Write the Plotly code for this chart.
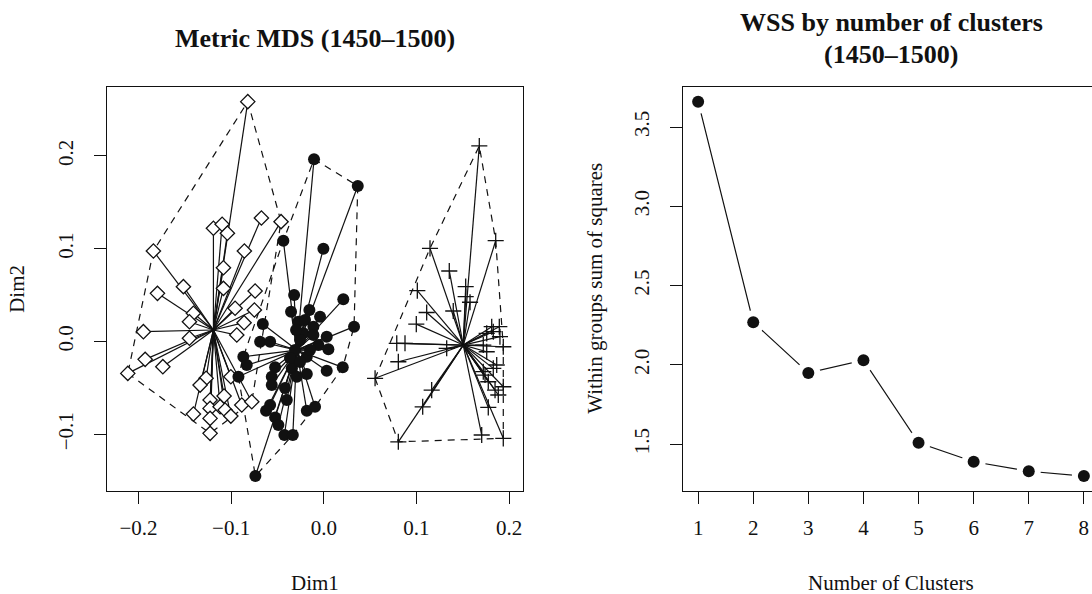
import plotly.graph_objects as go

# ---------------- Data: Metric MDS (1450-1500) ----------------
# Cluster 1 (open diamonds)
c1_x = [-0.0820, -0.1839, -0.1191, -0.1097, -0.1040, -0.0673, -0.0461, -0.0857, -0.1083,
        -0.1083, -0.0741, -0.1515, -0.1795, -0.1407, -0.1450, -0.0957, -0.0749, -0.0860,
        -0.1947, -0.0939, -0.1450, -0.1928, -0.1737, -0.2115, -0.1270, -0.1335, -0.1003,
        -0.1227, -0.1076, -0.1227, -0.1119, -0.1065, -0.0885, -0.0777, -0.1003, -0.1407,
        -0.1227, -0.1227]
c1_y = [0.2585, 0.0976, 0.1221, 0.1264, 0.1167, 0.1332, 0.1292, 0.0976, 0.0796,
        0.0574, 0.0545, 0.0592, 0.0520, 0.0305, 0.0214, 0.0359, 0.0341, 0.0204,
        0.0107, 0.0071, 0.0036, -0.0191, -0.0270, -0.0342, -0.0395, -0.0468, -0.0378,
        -0.0629, -0.0586, -0.0719, -0.0702, -0.0737, -0.0683, -0.0648, -0.0802, -0.0780,
        -0.0827, -0.0988]
# Cluster 2 (filled circles)
c2_x = [-0.0105, 0.0367, -0.0436, -0.0004, -0.0320, 0.0211, -0.0353, -0.0155, -0.0040,
        -0.0274, -0.0202, -0.0658, 0.0327, -0.0112, -0.0220, -0.0112, 0.0032, -0.0687,
        -0.0579, -0.0058, 0.0050, -0.0183, -0.0868, -0.0831, -0.0525, -0.0345, 0.0205,
        0.0032, -0.0183, -0.0291, -0.0561, -0.0921, -0.0561, -0.0399, -0.0579, -0.0623,
        -0.0183, -0.0094, -0.0525, -0.0490, -0.0425, -0.0334, -0.0738, -0.0256, -0.0310,
        -0.0148, -0.0364, -0.0256, -0.0418, -0.0299]
c2_y = [0.1965, 0.1677, 0.1087, 0.1001, 0.0502, 0.0456, 0.0322, 0.0341, 0.0268,
        0.0214, 0.0233, 0.0190, 0.0161, 0.0161, 0.0089, 0.0071, 0.0053, -0.0001,
        -0.0001, -0.0037, -0.0083, -0.0163, -0.0163, -0.0252, -0.0277, -0.0288, -0.0277,
        -0.0314, -0.0349, -0.0378, -0.0378, -0.0378, -0.0468, -0.0629, -0.0683, -0.0745,
        -0.0745, -0.0702, -0.0816, -0.0899, -0.1006, -0.1006, -0.1448, 0.0017, -0.0091,
        -0.0091, -0.0177, -0.0220, -0.0500, 0.0125]
# Cluster 3 (plus signs)
c3_x = [0.1679, 0.1856, 0.1147, 0.1355, 0.1010, 0.1532, 0.1532, 0.1579, 0.1398,
        0.1111, 0.0999, 0.1813, 0.1895, 0.1759, 0.1830, 0.1902, 0.0788, 0.0877,
        0.1327, 0.1938, 0.1759, 0.1722, 0.0805, 0.1867, 0.0554, 0.1741, 0.1776,
        0.1938, 0.1849, 0.1884, 0.1165, 0.1068, 0.1776, 0.1705, 0.1938, 0.0805,
        0.1830, 0.1722]
c3_y = [0.2108, 0.1087, 0.1005, 0.0761, 0.0549, 0.0592, 0.0484, 0.0424, 0.0330,
        0.0314, 0.0188, 0.0161, 0.0161, 0.0089, 0.0107, 0.0053, -0.0018, -0.0018,
        -0.0072, -0.0055, -0.0109, -0.0037, -0.0217, -0.0252, -0.0395, -0.0360, -0.0432,
        -0.0486, -0.0522, -0.0575, -0.0522, -0.0702, -0.0708, -0.1006, -0.1042, -0.1079,
        -0.0288, -0.0324]
centers_x = [-0.1191, -0.0291, 0.1506]
centers_y = [0.0125, -0.0091, -0.0037]

mds_xticks = [-0.2, -0.1, 0.0, 0.1, 0.2]
mds_xticktext = ["\u22120.2", "\u22120.1", "0.0", "0.1", "0.2"]
mds_yticks = [-0.1, 0.0, 0.1, 0.2]
mds_yticktext = ["\u22120.1", "0.0", "0.1", "0.2"]

# ---------------- Data: WSS by number of clusters ----------------
n_clusters = [1, 2, 3, 4, 5, 6, 7, 8]
wss = [3.66, 2.27, 1.95, 2.03, 1.51, 1.39, 1.33, 1.30]
wss_yticks = [1.5, 2.0, 2.5, 3.0, 3.5]
wss_yticktext = ["1.5", "2.0", "2.5", "3.0", "3.5"]

INK = "#111111"
FONT = "Liberation Serif"


def convex_hull(xs, ys):
    pts = sorted(set(zip(xs, ys)))
    if len(pts) <= 2:
        return pts

    def cross(o, a, b):
        return (a[0] - o[0]) * (b[1] - o[1]) - (a[1] - o[1]) * (b[0] - o[0])

    lower = []
    for p in pts:
        while len(lower) >= 2 and cross(lower[-2], lower[-1], p) <= 0:
            lower.pop()
        lower.append(p)
    upper = []
    for p in reversed(pts):
        while len(upper) >= 2 and cross(upper[-2], upper[-1], p) <= 0:
            upper.pop()
        upper.append(p)
    return lower[:-1] + upper[:-1]


fig = go.Figure()

clusters = [(c1_x, c1_y), (c2_x, c2_y), (c3_x, c3_y)]

# dashed convex hulls
for xs, ys in clusters:
    hull = convex_hull(xs, ys)
    hx = [p[0] for p in hull] + [hull[0][0]]
    hy = [p[1] for p in hull] + [hull[0][1]]
    fig.add_trace(go.Scatter(x=hx, y=hy, mode="lines", xaxis="x", yaxis="y",
                             line=dict(color=INK, width=1.2, dash="7px,6px"),
                             hoverinfo="skip", showlegend=False))

# star lines from centre to members
for (xs, ys), cx, cy in zip(clusters, centers_x, centers_y):
    sx, sy = [], []
    for x, y in zip(xs, ys):
        sx += [cx, x, None]
        sy += [cy, y, None]
    fig.add_trace(go.Scatter(x=sx, y=sy, mode="lines", xaxis="x", yaxis="y",
                             line=dict(color=INK, width=1.2),
                             hoverinfo="skip", showlegend=False))

# markers
fig.add_trace(go.Scatter(x=c1_x, y=c1_y, mode="markers", xaxis="x", yaxis="y",
                         marker=dict(symbol="diamond", size=11, color="white",
                                     line=dict(color=INK, width=1.3)),
                         showlegend=False))
fig.add_trace(go.Scatter(x=c2_x, y=c2_y, mode="markers", xaxis="x", yaxis="y",
                         marker=dict(symbol="circle", size=12, color=INK,
                                     line=dict(width=0)),
                         showlegend=False))
fig.add_trace(go.Scatter(x=c3_x, y=c3_y, mode="markers", xaxis="x", yaxis="y",
                         marker=dict(symbol="cross-thin-open", size=11.5, color=INK,
                                     line=dict(color=INK, width=1.3)),
                         showlegend=False))

# WSS panel: line with gaps around points (R type="b")
fig.add_trace(go.Scatter(x=n_clusters, y=wss, mode="lines", xaxis="x2", yaxis="y2",
                         line=dict(color=INK, width=1.2), showlegend=False))
fig.add_trace(go.Scatter(x=n_clusters, y=wss, mode="markers", xaxis="x2", yaxis="y2",
                         marker=dict(symbol="circle", size=24, color="white",
                                     line=dict(width=0)),
                         hoverinfo="skip", showlegend=False))
fig.add_trace(go.Scatter(x=n_clusters, y=wss, mode="markers", xaxis="x2", yaxis="y2",
                         marker=dict(symbol="circle", size=12, color=INK,
                                     line=dict(width=0)),
                         showlegend=False))

W, H = 1092, 594
box_left1, box_right1 = 106.7, 523.3
box_left2 = 682.7
box_top, box_bottom = 86.7, 491.0
ydom = [(H - box_bottom) / H, (H - box_top) / H]

wmin, wmax = min(wss), max(wss)
wr = wmax - wmin
wss_range = [wmin - 0.04 * wr, wmax + 0.04 * wr]
unit2 = (box_right1 - box_left1) / (7 * 1.08)
x2_range = [1 - 0.28, 1 - 0.28 + (W - box_left2) / unit2]

axis_common = dict(showgrid=False, zeroline=False, showline=True, linecolor=INK,
                   linewidth=1.2, ticks="outside", ticklen=12, tickwidth=1.2,
                   tickcolor=INK, tickfont=dict(family=FONT, size=21, color=INK))

fig.update_layout(
    width=W, height=H,
    margin=dict(l=0, r=0, t=0, b=0),
    paper_bgcolor="white", plot_bgcolor="white",
    xaxis=dict(domain=[box_left1 / W, box_right1 / W], range=[-0.2343, 0.2154],
               tickvals=mds_xticks, ticktext=mds_xticktext, mirror=True,
               ticklabelstandoff=6, anchor="y", **axis_common),
    yaxis=dict(domain=ydom, range=[-0.1609, 0.2746], tickvals=mds_yticks,
               ticktext=mds_yticktext, tickangle=-90, mirror=True,
               ticklabelstandoff=12, anchor="x", **axis_common),
    xaxis2=dict(domain=[box_left2 / W, 1.0], range=x2_range, tickvals=n_clusters,
                mirror=True, ticklabelstandoff=6, anchor="y2", **axis_common),
    yaxis2=dict(domain=ydom, range=wss_range, tickvals=wss_yticks,
                ticktext=wss_yticktext, tickangle=-90, mirror=False,
                ticklabelstandoff=12, anchor="x2", **axis_common),
    font=dict(family=FONT, color=INK),
)


def ann(text, px, py, size=21, bold=False, angle=0):
    t = f"<b>{text}</b>" if bold else text
    fig.add_annotation(text=t, x=px / W, y=(H - py) / H, xref="paper", yref="paper",
                       showarrow=False, xanchor="center", yanchor="middle",
                       textangle=angle, font=dict(family=FONT, size=size, color=INK))


c1 = (box_left1 + box_right1) / 2
c2 = box_left2 + (box_right1 - box_left1) / 2
ann("Metric MDS (1450\u20131500)", c1, 38, size=26, bold=True)
ann("WSS by number of clusters", c2, 22, size=26, bold=True)
ann("(1450\u20131500)", c2, 55, size=26, bold=True)
ann("Dim1", c1, 583)
ann("Number of Clusters", c2, 583)
ann("Dim2", 17, (box_top + box_bottom) / 2, angle=-90)
ann("Within groups sum of squares", 595, (box_top + box_bottom) / 2, angle=-90)

fig.write_html("out.html")
